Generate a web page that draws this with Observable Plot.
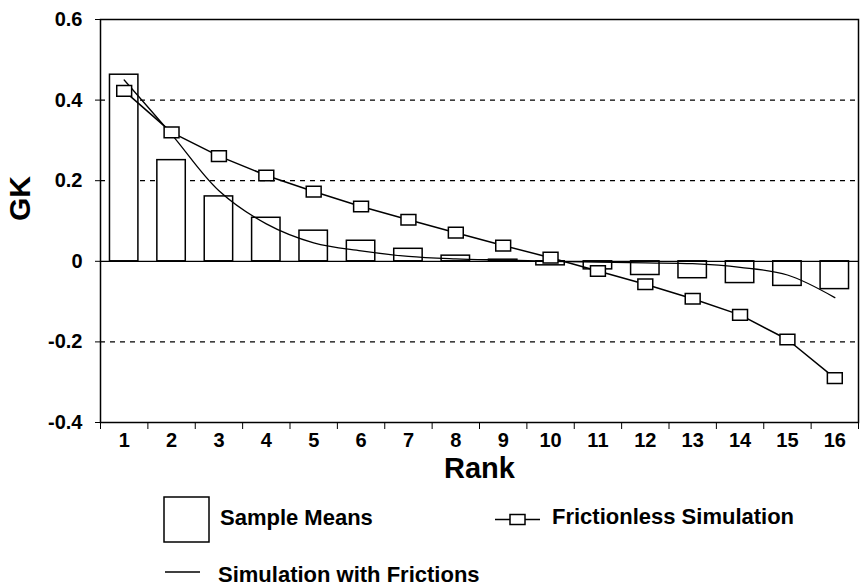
<!DOCTYPE html>
<html>
<head>
<meta charset="utf-8">
<script src="https://cdn.jsdelivr.net/npm/d3@7"></script>
<script src="https://cdn.jsdelivr.net/npm/@observablehq/plot@0.6"></script>
<style>
  html, body { margin: 0; padding: 0; background: white; }
  #wrap { width: 865px; height: 586px; overflow: hidden; background: white; }
  #legend text { font-family: "Liberation Sans", Arial, sans-serif; font-weight: bold; font-size: 22px; fill: black; }
</style>
</head>
<body>
<div id="wrap"></div>
<script>
const ranks = [1, 2, 3, 4, 5, 6, 7, 8, 9, 10, 11, 12, 13, 14, 15, 16];
const sampleMeans = [0.463, 0.251, 0.161, 0.108, 0.076, 0.051, 0.031, 0.014, 0.004, -0.01, -0.02, -0.034, -0.042, -0.054, -0.061, -0.069];
const frictionless = [0.423, 0.32, 0.261, 0.213, 0.173, 0.136, 0.103, 0.071, 0.039, 0.009, -0.024, -0.057, -0.093, -0.133, -0.194, -0.29];
const withFrictions = [0.45, 0.315, 0.175, 0.093, 0.046, 0.026, 0.012, 0.006, 0.003, 0.0, -0.002, -0.004, -0.006, -0.015, -0.034, -0.09];
const yTicks = [-0.4, -0.2, 0, 0.2, 0.4, 0.6];
const gridValues = [0.4, 0.2, -0.2];
const legendLabels = ["Sample Means", "Frictionless Simulation", "Simulation with Frictions"];

const bars = ranks.map((r, i) => ({rank: r, value: sampleMeans[i]}));
const fl = ranks.map((r, i) => ({rank: r, value: frictionless[i]}));
const wf = ranks.map((r, i) => ({rank: r, value: withFrictions[i]}));
const boundaries = d3.range(0.5, ranks.length + 1, 1);

const rectSymbol = {
  draw(ctx, size) {
    const s = Math.sqrt(size);
    const w = s * 0.7, h = s * 0.5;
    ctx.moveTo(-w, -h); ctx.lineTo(w, -h); ctx.lineTo(w, h); ctx.lineTo(-w, h); ctx.closePath();
  }
};

const fmt = d => d === 0 ? "0" : d.toFixed(1);

const chart = Plot.plot({
  width: 865, height: 490,
  marginLeft: 100, marginRight: 7, marginTop: 19, marginBottom: 68,
  x: {type: "linear", domain: [0.5, 16.5]},
  y: {domain: [-0.4, 0.6]},
  style: {fontFamily: "'Liberation Sans', Arial, sans-serif", fontSize: "20px", fontWeight: "bold", background: "white", color: "black"},
  marks: [
    Plot.ruleY(gridValues, {stroke: "black", strokeDasharray: "5,5", strokeWidth: 1.2}),
    Plot.rect(bars, {x1: d => d.rank - 0.3, x2: d => d.rank + 0.3, y1: 0, y2: "value", fill: "white", stroke: "black", strokeWidth: 1.5}),
    Plot.ruleY([0], {stroke: "black", strokeWidth: 1.3}),
    Plot.line(wf, {x: "rank", y: "value", curve: "catmull-rom", stroke: "black", strokeWidth: 1.3}),
    Plot.line(fl, {x: "rank", y: "value", stroke: "black", strokeWidth: 1.5}),
    Plot.dot(fl, {x: "rank", y: "value", symbol: rectSymbol, r: 6, fill: "white", stroke: "black", strokeWidth: 1.5}),
    Plot.frame({stroke: "black", strokeWidth: 1.5}),
    Plot.axisY({ticks: yTicks, tickFormat: fmt, tickSize: 5, tickPadding: 13, label: null}),
    Plot.axisX({ticks: boundaries, tickFormat: () => "", tickSize: 7, label: null}),
    Plot.axisX({ticks: ranks, tickFormat: d => String(d), tickSize: 0, tickPadding: 10, label: null}),
    Plot.text(["GK"], {frameAnchor: "left", dx: -80, rotate: -90, fontSize: 30, fontWeight: "bold"}),
    Plot.text(["Rank"], {frameAnchor: "bottom", dy: 55, lineAnchor: "bottom", fontSize: 29, fontWeight: "bold"})
  ]
});
document.getElementById("wrap").appendChild(chart);

const ns = "http://www.w3.org/2000/svg";
const leg = document.createElementNS(ns, "svg");
leg.setAttribute("id", "legend");
leg.setAttribute("width", 865);
leg.setAttribute("height", 96);
leg.style.display = "block";
leg.innerHTML = `
  <rect x="164" y="7" width="45" height="45" fill="white" stroke="black" stroke-width="1.5"/>
  <text x="220" y="35">${legendLabels[0]}</text>
  <line x1="495" x2="540" y1="29.5" y2="29.5" stroke="black" stroke-width="1.5"/>
  <rect x="510" y="24.5" width="15" height="10" fill="white" stroke="black" stroke-width="1.5"/>
  <text x="552" y="34">${legendLabels[1]}</text>
  <line x1="165" x2="200" y1="82" y2="82" stroke="black" stroke-width="1.3"/>
  <text x="218" y="92">${legendLabels[2]}</text>
`;
document.getElementById("wrap").appendChild(leg);
</script>
</body>
</html>
